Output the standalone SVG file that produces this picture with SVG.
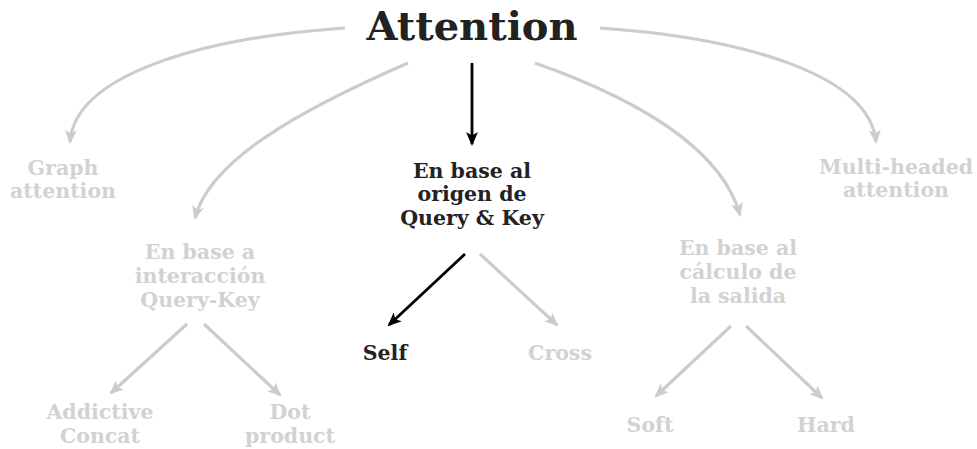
<svg xmlns="http://www.w3.org/2000/svg" width="977" height="449" viewBox="0 0 977 449">
<style>
text{font-family:"DejaVu Serif","Liberation Serif",serif;font-weight:bold;text-anchor:middle;font-size:20.5px}
.g{fill:#d2d2d2}
.k{fill:#222222}
.title{font-size:40px}
.eg{fill:none;stroke:#cccccc;stroke-width:3.2}
.ek{fill:none;stroke:#000000;stroke-width:2.8}
</style>
<defs>
<marker id="ag" viewBox="0 0 14 12" refX="12" refY="6" markerWidth="14" markerHeight="12" markerUnits="userSpaceOnUse" orient="auto">
<path d="M0,0 L14,6 L0,12 L3.5,6 Z" fill="#cccccc"/>
</marker>
<marker id="ak" viewBox="0 0 14 12" refX="12" refY="6" markerWidth="14" markerHeight="12" markerUnits="userSpaceOnUse" orient="auto">
<path d="M0,0 L14,6 L0,12 L3.5,6 Z" fill="#000000"/>
</marker>
</defs>
<g id="connectors">
<path class="eg" d="M345,28 C200,38 75,75 70,142" marker-end="url(#ag)"/>
<path class="eg" d="M600,28 C745,38 870,75 876,142" marker-end="url(#ag)"/>
<path class="eg" d="M408,63 C300,110 210,160 195,218" marker-end="url(#ag)"/>
<path class="eg" d="M535,63 C640,100 722,150 740,215" marker-end="url(#ag)"/>
<path class="ek" d="M472,63 L472,144" marker-end="url(#ak)"/>
<path class="ek" d="M465,254 L389,325" marker-end="url(#ak)"/>
<path class="eg" d="M480,254 L557,325" marker-end="url(#ag)"/>
<path class="eg" d="M187,324 L111,393" marker-end="url(#ag)"/>
<path class="eg" d="M204,324 L280,395" marker-end="url(#ag)"/>
<path class="eg" d="M731,326 L656,396" marker-end="url(#ag)"/>
<path class="eg" d="M746,326 L822,398" marker-end="url(#ag)"/>
</g>
<g id="attention"><text class="k title" x="472" y="40">Attention</text></g>
<g id="graph"><text class="g" x="63" y="175">Graph</text><text class="g" x="63" y="198">attention</text></g>
<g id="interaccion"><text class="g" x="200" y="259">En base a</text><text class="g" x="200" y="283">interacción</text><text class="g" x="200" y="307">Query-Key</text></g>
<g id="origen"><text class="k" x="472" y="178">En base al</text><text class="k" x="472" y="201">origen de</text><text class="k" x="472" y="225">Query &amp; Key</text></g>
<g id="calculo"><text class="g" x="738" y="255">En base al</text><text class="g" x="738" y="279">cálculo de</text><text class="g" x="738" y="303">la salida</text></g>
<g id="multi"><text class="g" x="896" y="174">Multi-headed</text><text class="g" x="896" y="197">attention</text></g>
<g id="self"><text class="k" x="385" y="360">Self</text></g>
<g id="cross"><text class="g" x="560" y="360">Cross</text></g>
<g id="addictive"><text class="g" x="100" y="419">Addictive</text><text class="g" x="100" y="443">Concat</text></g>
<g id="dot"><text class="g" x="290" y="419">Dot</text><text class="g" x="290" y="443">product</text></g>
<g id="soft"><text class="g" x="650" y="432">Soft</text></g>
<g id="hard"><text class="g" x="826" y="432">Hard</text></g>
</svg>
